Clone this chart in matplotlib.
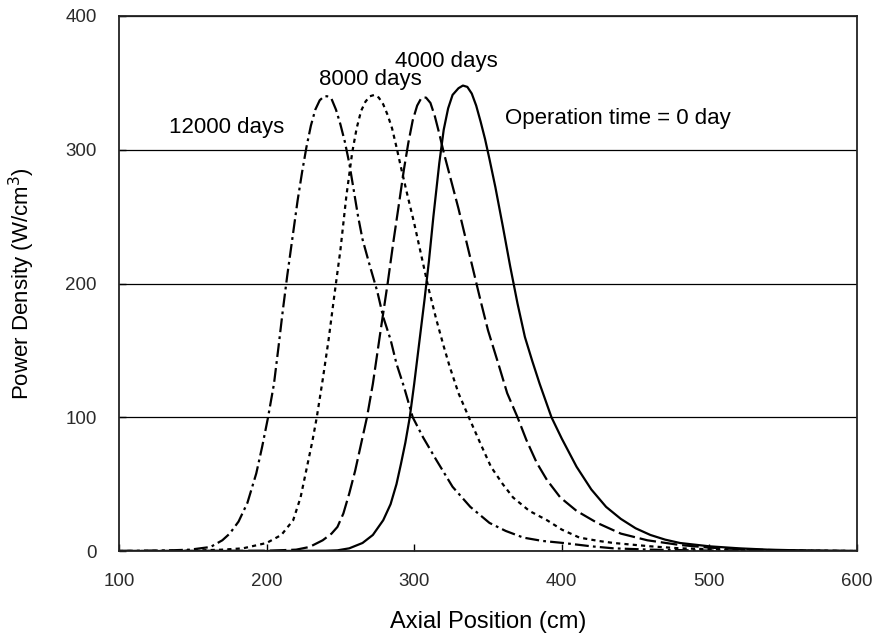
import matplotlib
matplotlib.use("Agg")
import matplotlib.pyplot as plt

plt.rcParams["font.family"] = ["Liberation Sans", "DejaVu Sans"]
plt.rcParams["lines.scale_dashes"] = False

# power density profiles (axial position cm, W/cm3)
x_0day = [100, 200, 240, 248, 256, 265, 272, 279, 284, 288, 291, 294, 297,
          300, 303, 307, 310, 313, 317, 320, 323, 326, 330, 333, 336, 339,
          342, 345, 348, 351, 355, 360, 365, 370, 375, 380, 385, 393, 400,
          410, 420, 430, 440, 450, 460, 470, 480, 500, 520, 540, 560, 580,
          600]
pd_0day = [0, 0, 0.2, 0.5, 2, 6, 12, 23, 35, 50, 65, 81, 100,
           125, 152, 188, 217, 250, 290, 315, 331, 341, 346, 348, 347, 342,
           333, 321, 308, 293, 272, 243, 213, 185, 160, 142, 125, 100, 84,
           63, 46, 33, 24, 17, 12, 8.5, 6, 3.5, 2, 1, 0.5, 0.2,
           0]

x_4000 = [100, 200, 220, 229, 238, 244, 248, 252, 256, 260, 264, 268, 272,
          277, 282, 286, 290, 293, 296, 299, 302, 305, 308, 311, 314, 317,
          320, 325, 330, 335, 340, 345, 350, 357, 363, 370, 376, 383, 390,
          399, 410, 424, 440, 458, 480, 500, 530, 560, 600]
pd_4000 = [0, 0.2, 1, 3, 8, 13, 18, 28, 43, 60, 80, 100, 125,
           163, 200, 232, 262, 285, 305, 322, 333, 339, 339, 335, 325, 312,
           298, 277, 256, 233, 210, 187, 165, 140, 118, 100, 83, 66, 53,
           40, 30, 21, 13, 8, 4.5, 2.5, 1, 0.3, 0]

x_8000 = [100, 150, 170, 184, 200, 210, 218, 223, 227, 231, 234, 238, 242,
          246, 250, 254, 258, 261, 264, 267, 270, 273, 276, 279, 282, 285,
          288, 291, 295, 300, 306, 310, 315, 320, 324, 330, 337, 345, 352,
          360, 367, 378, 390, 400, 412, 425, 435, 460, 480, 520, 560, 600]
pd_8000 = [0, 0.3, 1, 2, 6, 12, 23, 40, 61, 82, 100, 128, 158,
           192, 225, 265, 298, 316, 329, 336, 340, 341, 339, 334, 326, 316,
           302, 287, 268, 245, 215, 195, 173, 153, 138, 118, 100, 80, 63,
           50, 40, 30, 23, 16, 10, 7.5, 6, 3.5, 2, 0.7, 0.2, 0]

x_12000 = [100, 130, 148, 155, 162, 170, 175, 181, 187, 193, 197, 201, 205,
           208, 211, 214, 218, 221, 224, 227, 230, 233, 236, 239, 241,
           244, 247, 250, 253, 256, 259, 262, 265, 270, 275, 279, 284, 288,
           293, 299, 306, 315, 326, 338, 351, 362, 374, 387, 401, 420, 435,
           460, 500, 600]
pd_12000 = [0, 0.3, 1, 2, 3, 8, 13, 22, 36, 58, 78, 100, 125,
            152, 180, 206, 238, 262, 283, 302, 318, 330, 337, 340, 340,
            338, 330, 319, 306, 290, 270, 250, 233, 213, 194, 175, 158, 140,
            123, 100, 85, 68, 48, 33, 21, 15, 10, 7.5, 6, 3.5, 2,
            1, 0.3, 0]

series = [
    (x_0day, pd_0day, "-"),
    (x_4000, pd_4000, (0, (12, 3.5))),
    (x_8000, pd_8000, (0, (3, 3))),
    (x_12000, pd_12000, (0, (10, 3, 2, 3))),
]

# label text, x, y (baseline)
labels = [
    ("12000 days", 173, 312.5),
    ("8000 days", 270, 348.5),
    ("4000 days", 321.5, 362),
    ("Operation time = 0 day", 438, 319.5),
]

fig = plt.figure(figsize=(8.75, 6.42), dpi=100)
ax = fig.add_axes([119 / 875, 91 / 642, 738 / 875, 535 / 642])

for xs, ys, ls in series:
    ax.plot(xs, ys, color="black", lw=1.6, linestyle=ls)

for text, x, y in labels:
    ax.text(x, y, text, ha="center", va="baseline", fontsize=16)

ax.set_xlim(100, 600)
ax.set_ylim(0, 400)
ax.set_xticks(range(100, 601, 100))
ax.set_yticks(range(0, 401, 100))
ax.grid(axis="y", color="black", lw=0.9)
ax.set_axisbelow(True)
ax.tick_params(direction="in", length=5, width=1, pad=16,
               labelsize=13.5, labelcolor="#2a2a2a")
for sp in ax.spines.values():
    sp.set_linewidth(1.3)
    sp.set_color("#222222")

ax.set_xlabel("Axial Position (cm)", fontsize=17, va="center")
ax.xaxis.set_label_coords(0.5, -0.133)
ax.set_ylabel("Power Density (W/cm$^3$)", fontsize=16, va="center")
ax.yaxis.set_label_coords(-0.131, 0.5)

fig.savefig("out.png", dpi=100)
